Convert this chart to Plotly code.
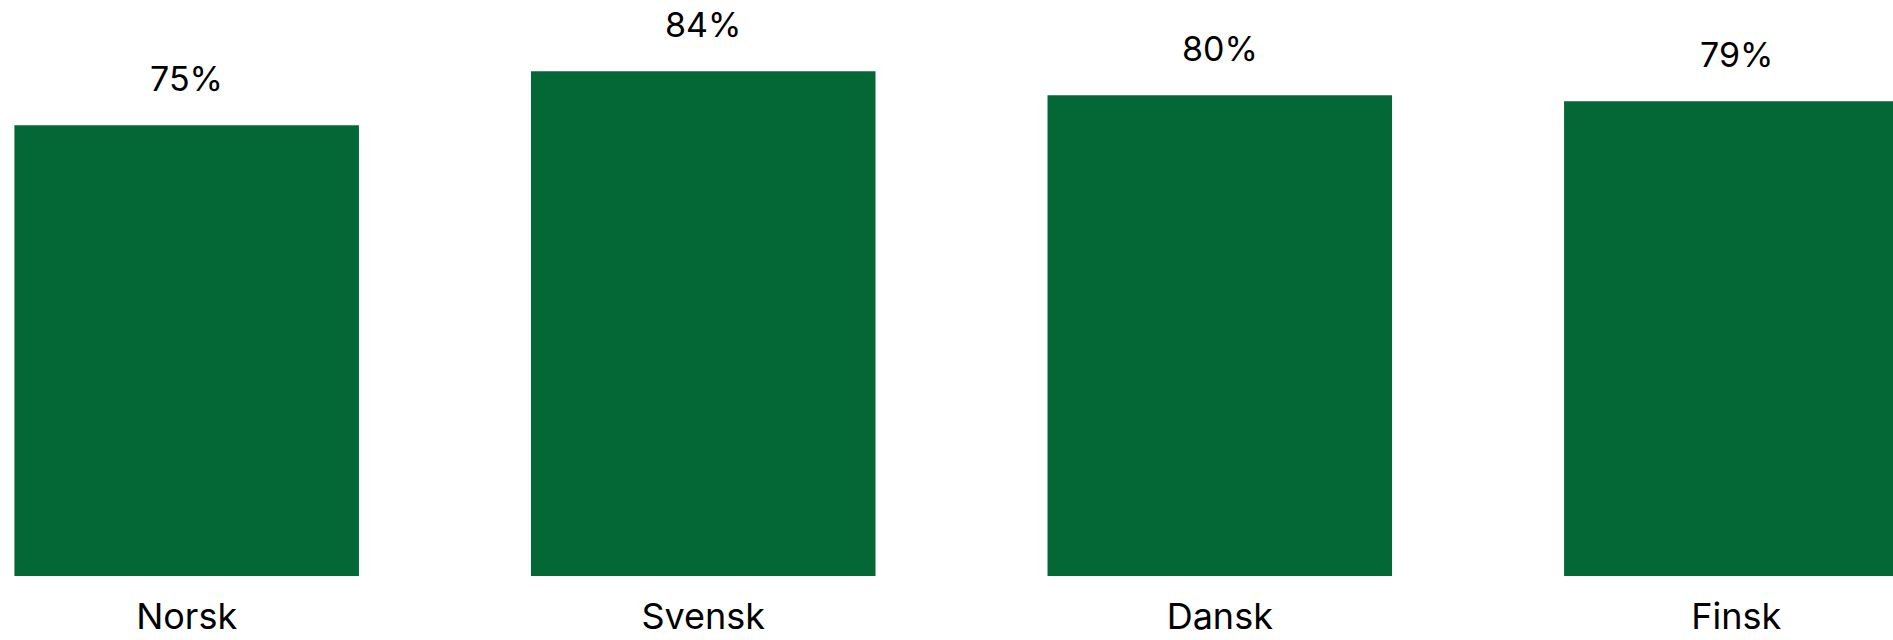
import plotly.graph_objects as go

categories = ["Norsk", "Svensk", "Dansk", "Finsk"]
values = [75, 84, 80, 79]
labels = ["75%", "84%", "80%", "79%"]

BAR_COLOR = "#046836"
FONT = "Inter"

fig = go.Figure()
fig.add_trace(go.Bar(
    x=categories,
    y=values,
    marker=dict(color=BAR_COLOR, line=dict(width=0)),
    hoverinfo="skip",
))

for c, v, t in zip(categories, values, labels):
    fig.add_annotation(
        x=c, y=v, text=t, showarrow=False,
        yanchor="bottom", yshift=24,
        font=dict(family=FONT, size=34, color="#000000"),
    )

fig.update_layout(
    width=1893, height=640,
    margin=dict(l=0, r=0, t=0, b=64),
    paper_bgcolor="white", plot_bgcolor="white",
    bargap=0.333,
    showlegend=False,
    xaxis=dict(
        range=[-0.3614, 3.3033],
        showgrid=False, zeroline=False, showline=False,
        ticks="", tickfont=dict(family=FONT, size=36, color="#000000"),
        ticklabelstandoff=16,
    ),
    yaxis=dict(
        range=[0, 95.84], visible=False, showgrid=False, zeroline=False,
    ),
)

fig.write_html(
    "out.html",
    config={"displayModeBar": False},
    post_script="document.body.style.margin='0';",
)
